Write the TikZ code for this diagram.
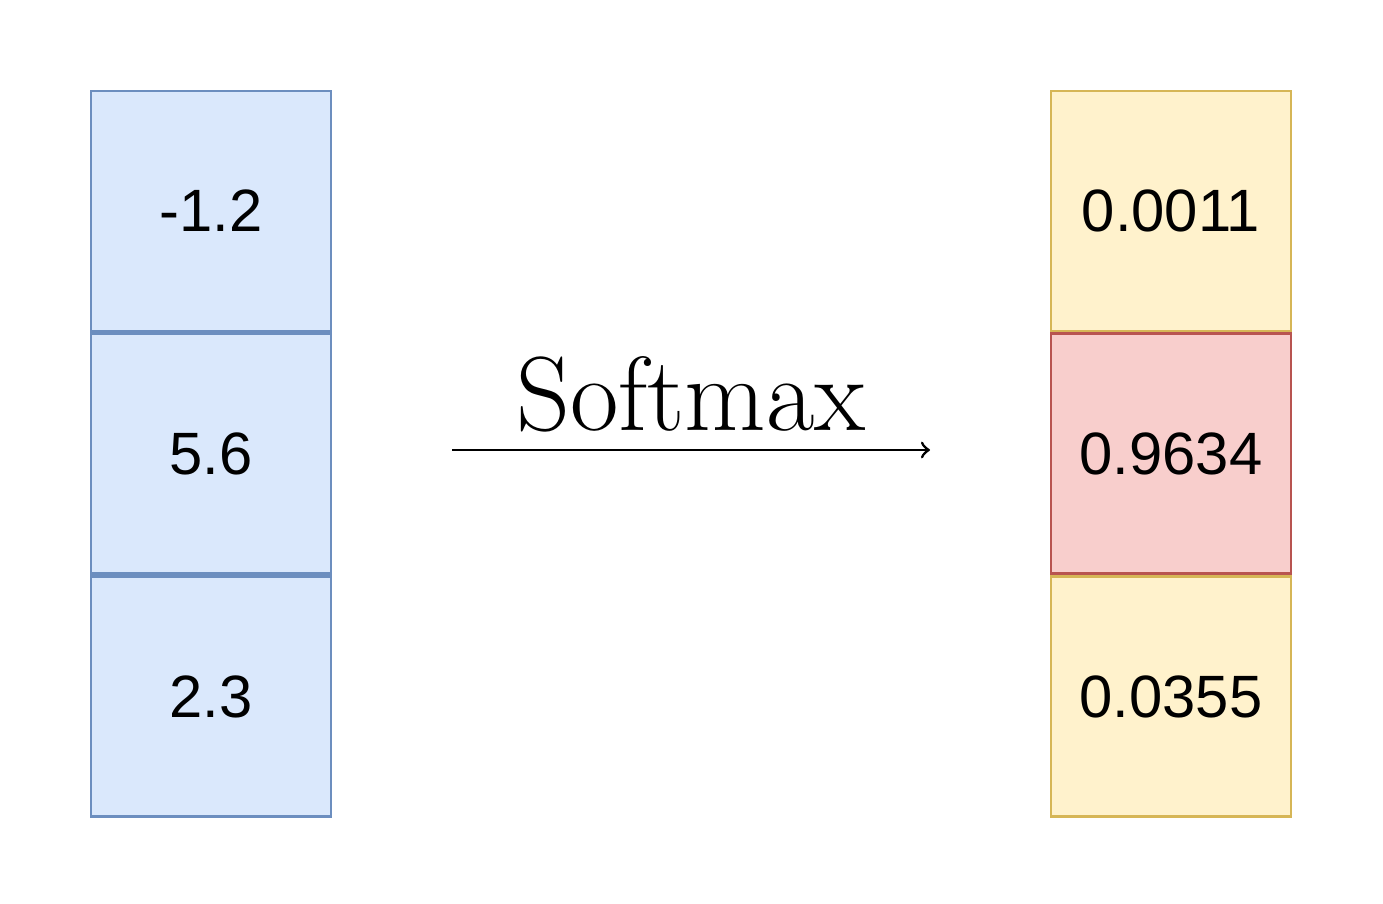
\documentclass[tikz,border=0pt]{standalone}
\usepackage{fontspec}
\newfontfamily\numfont{Liberation Sans}
\usetikzlibrary{positioning}
\definecolor{inblue}{HTML}{DAE8FC}
\definecolor{inblueline}{HTML}{6C8EBF}
\definecolor{outyellow}{HTML}{FFF2CC}
\definecolor{outyellowline}{HTML}{D6B656}
\definecolor{outred}{HTML}{F8CECC}
\definecolor{outredline}{HTML}{B85450}
\tikzset{
  cell/.style={draw, thick, minimum width=2.4cm, minimum height=2.4cm, inner sep=0pt, font=\numfont\fontsize{17}{20}\selectfont},
  incell/.style={cell, fill=inblue, draw=inblueline},
  lowcell/.style={cell, fill=outyellow, draw=outyellowline},
  highcell/.style={cell, fill=outred, draw=outredline}
}
\begin{document}
\begin{tikzpicture}
        \useasboundingbox (0,0) rectangle (13.83,9.03);
        
        \node[incell] (in1) at (2.11,6.92) {-1.2};
        \node[incell, below=0pt of in1] (in2) {5.6};
        \node[incell, below=0pt of in2] (in3) {2.3};
        
        \node[lowcell] (out1) at (11.71,6.92) {0.0011};
        \node[highcell, below=0pt of out1] (out2) {0.9634};
        \node[lowcell, below=0pt of out2] (out3) {0.0355};
        
        \coordinate (start) at (4.52,4.53);
        \coordinate (stop) at (9.30,4.53);
        \draw[->, thick] (start) -- node[above=0.05cm, font=\fontsize{30}{34}\selectfont] (label) {Softmax} (stop);
        
\end{tikzpicture}
\end{document}
